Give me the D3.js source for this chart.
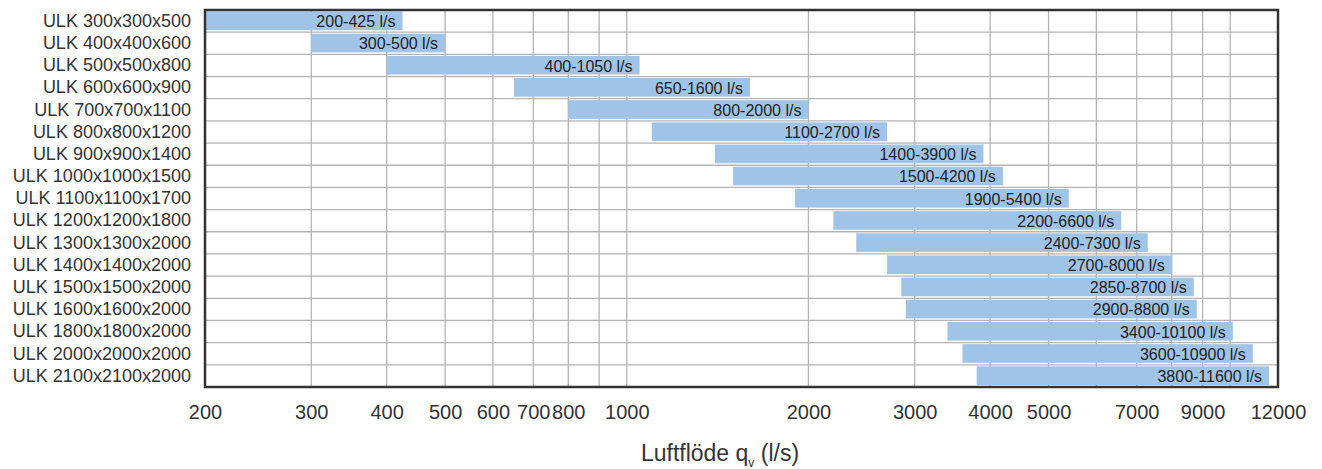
<!DOCTYPE html>
<html lang="sv">
<head>
    <meta charset="UTF-8">
    <title>ULK luftflöde</title>
    <script src="https://cdn.jsdelivr.net/npm/d3@7.9.0/dist/d3.min.js"></script>
    <style>
        body { margin: 0; background: #fff; }
        svg text { font-family: "Liberation Sans", Arial, Helvetica, sans-serif; fill: #333; }
    </style>
</head>
<body>
<svg id="chart" width="1322" height="469"></svg>
<script>
// Units and their air flow ranges (l/s)
const models = [
    'ULK 300x300x500', 'ULK 400x400x600', 'ULK 500x500x800', 'ULK 600x600x900',
    'ULK 700x700x1100', 'ULK 800x800x1200', 'ULK 900x900x1400', 'ULK 1000x1000x1500',
    'ULK 1100x1100x1700', 'ULK 1200x1200x1800', 'ULK 1300x1300x2000', 'ULK 1400x1400x2000',
    'ULK 1500x1500x2000', 'ULK 1600x1600x2000', 'ULK 1800x1800x2000', 'ULK 2000x2000x2000',
    'ULK 2100x2100x2000'
];
const flowMin = [200, 300, 400, 650, 800, 1100, 1400, 1500, 1900, 2200, 2400, 2700, 2850, 2900, 3400, 3600, 3800];
const flowMax = [425, 500, 1050, 1600, 2000, 2700, 3900, 4200, 5400, 6600, 7300, 8000, 8700, 8800, 10100, 10900, 11600];

const tickLabels = [200, 300, 400, 500, 600, 700, 800, 1000, 2000, 3000, 4000, 5000, 7000, 9000, 12000];
const gridValues = [300, 400, 500, 600, 700, 800, 900, 1000, 2000, 3000, 4000, 5000, 6000, 7000, 8000, 9000, 10000];

const margin = { top: 10, right: 44, bottom: 82, left: 205 };
const W = 1322, H = 469;
const iw = W - margin.left - margin.right;
const ih = H - margin.top - margin.bottom;

const svg = d3.select('#chart');
const g = svg.append('g').attr('transform', `translate(${margin.left},${margin.top})`);

const x = d3.scaleLog().domain([200, 12000]).range([0, iw]);
const y = d3.scaleBand().domain(models).range([0, ih]).paddingInner(0).paddingOuter(0);

// vertical grid
g.selectAll('line.vgrid')
    .data(gridValues)
    .enter().append('line')
    .attr('x1', d => x(d)).attr('x2', d => x(d))
    .attr('y1', 0).attr('y2', ih)
    .attr('stroke', '#b4b4b4').attr('stroke-width', 1.3);

// horizontal grid (row separators)
g.selectAll('line.hgrid')
    .data(models.slice(0, -1))
    .enter().append('line')
    .attr('x1', 0).attr('x2', iw)
    .attr('y1', d => y(d) + y.bandwidth()).attr('y2', d => y(d) + y.bandwidth())
    .attr('stroke', '#b4b4b4').attr('stroke-width', 1.3);

const rows = models.map((m, i) => ({ model: m, lo: flowMin[i], hi: flowMax[i] }));

g.selectAll('rect.bar')
    .data(rows)
    .enter().append('rect')
    .attr('x', d => x(d.lo))
    .attr('y', d => y(d.model) + 1.5)
    .attr('width', d => x(d.hi) - x(d.lo))
    .attr('height', y.bandwidth() - 3.5)
    .attr('fill', '#9fc4e8');

g.selectAll('text.barlabel')
    .data(rows)
    .enter().append('text')
    .attr('x', d => x(d.hi) - 7)
    .attr('y', d => y(d.model) + y.bandwidth() / 2 + 0.5)
    .attr('dy', '0.35em')
    .attr('text-anchor', 'end')
    .style('font-size', '16px')
    .style('fill', '#222')
    .text(d => `${d.lo}-${d.hi} l/s`);

// frame
g.append('rect')
    .attr('x', 0).attr('y', 0).attr('width', iw).attr('height', ih)
    .attr('fill', 'none').attr('stroke', '#333').attr('stroke-width', 2.5);

// y labels
const yAxis = d3.axisLeft(y).tickSize(0).tickPadding(14);
const ya = g.append('g').call(yAxis);
ya.select('.domain').remove();
ya.selectAll('text').style('font-size', '18px').style('fill', '#333').style('font-family', '"Liberation Sans", Arial, sans-serif');

// x tick labels
const xAxis = d3.axisBottom(x).tickValues(tickLabels).tickFormat(d3.format('d')).tickSize(0).tickPadding(18);
const xa = g.append('g').attr('transform', `translate(0,${ih})`).call(xAxis);
xa.select('.domain').remove();
xa.selectAll('text').style('font-size', '20px').style('fill', '#333').style('font-family', '"Liberation Sans", Arial, sans-serif');

// axis title
const title = svg.append('text')
    .attr('x', margin.left + 515)
    .attr('y', 461)
    .attr('text-anchor', 'middle')
    .style('font-size', '23px');
title.append('tspan').text('Luftflöde q');
title.append('tspan').attr('dy', 6).style('font-size', '12px').text('v');
title.append('tspan').attr('dy', -6).text(' (l/s)');
</script>
</body>
</html>
